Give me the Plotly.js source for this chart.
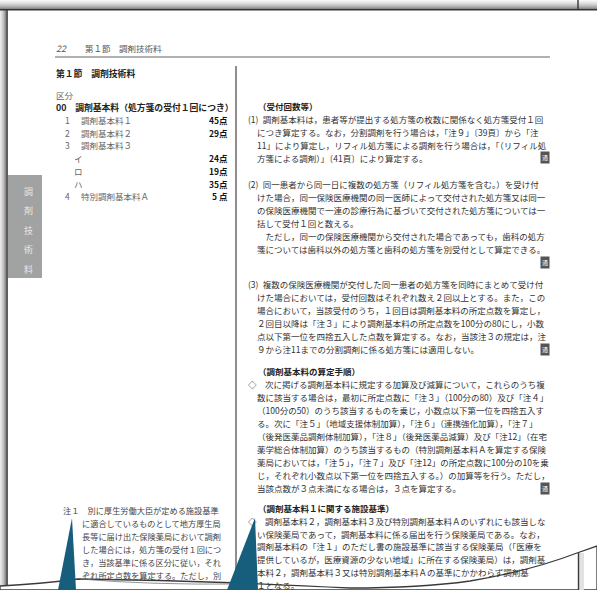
<!DOCTYPE html>
<html>
<head>
<meta charset="utf-8">
<script src="https://cdn.plot.ly/plotly-3.0.1.min.js"></script>
<style>html,body{margin:0;padding:0;background:#fff;}#chart{width:597px;height:590px;}</style>
</head>
<body>
<div id="chart"></div>
<script>
// ---------- data ----------
const pageNo = "22";
const sectionTitle = "第１節　調剤技術料";
const kubunLabel = "区分";
const itemHeading = "00　調剤基本料（処方箋の受付１回につき）";
const itemNos = ["1", "2", "3", "", "", "", "4"];
const itemNames = ["調剤基本料１", "調剤基本料２", "調剤基本料３", "イ", "ロ", "ハ", "特別調剤基本料Ａ"];
const itemPoints = [45, 29, null, 24, 19, 35, 5];
const tabChars = ["調", "剤", "技", "術", "料"];

const noteLines = [
  "注１　別に厚生労働大臣が定める施設基準",
  "に適合しているものとして地方厚生局",
  "長等に届け出た保険薬局において調剤",
  "した場合には，処方箋の受付１回につ",
  "き，当該基準に係る区分に従い，それ",
  "ぞれ所定点数を算定する。ただし，別"
];

const head1 = "（受付回数等）";
const para1 = [
  "(1)\u2002調剤基本料は，患者等が提出する処方箋の枚数に関係なく処方箋受付１回",
  "につき算定する。なお，分割調剤を行う場合は，「注９」〔39頁〕から「注",
  "11」により算定し，リフィル処方箋による調剤を行う場合は，「（リフィル処",
  "方箋による調剤）」〔41頁〕により算定する。"
];
const para2 = [
  "(2)\u2002同一患者から同一日に複数の処方箋（リフィル処方箋を含む。）を受け付",
  "けた場合，同一保険医療機関の同一医師によって交付された処方箋又は同一",
  "の保険医療機関で一連の診療行為に基づいて交付された処方箋については一",
  "括して受付１回と数える。",
  "　ただし，同一の保険医療機関から交付された場合であっても，歯科の処方",
  "箋については歯科以外の処方箋と歯科の処方箋を別受付として算定できる。"
];
const para3 = [
  "(3)\u2002複数の保険医療機関が交付した同一患者の処方箋を同時にまとめて受け付",
  "けた場合においては，受付回数はそれぞれ数え２回以上とする。また，この",
  "場合において，当該受付のうち，１回目は調剤基本料の所定点数を算定し，",
  "２回目以降は「注３」により調剤基本料の所定点数を100分の80にし，小数",
  "点以下第一位を四捨五入した点数を算定する。なお，当該注３の規定は，注",
  "９から注11までの分割調剤に係る処方箋には適用しない。"
];
const head2 = "（調剤基本料の算定手順）";
const para4 = [
  "◇　次に掲げる調剤基本料に規定する加算及び減算について，これらのうち複",
  "数に該当する場合は，最初に所定点数に「注３」（100分の80）及び「注４」",
  "（100分の50）のうち該当するものを乗じ，小数点以下第一位を四捨五入す",
  "る。次に「注５」（地域支援体制加算），「注６」（連携強化加算），「注７」",
  "（後発医薬品調剤体制加算），「注８」（後発医薬品減算）及び「注12」（在宅",
  "薬学総合体制加算）のうち該当するもの（特別調剤基本料Ａを算定する保険",
  "薬局においては，「注５」，「注７」及び「注12」の所定点数に100分の10を乗",
  "じ，それぞれ小数点以下第一位を四捨五入する。）の加算等を行う。ただし，",
  "当該点数が３点未満になる場合は，３点を算定する。"
];
const head3 = "（調剤基本料１に関する施設基準）";
const para5 = [
  "◇　調剤基本料２，調剤基本料３及び特別調剤基本料Ａのいずれにも該当しな",
  "い保険薬局であって，調剤基本料に係る届出を行う保険薬局である。なお，",
  "調剤基本料の「注１」のただし書の施設基準に該当する保険薬局（「医療を",
  "提供しているが，医療資源の少ない地域」に所在する保険薬局）は，調剤基",
  "本料２，調剤基本料３又は特別調剤基本料Ａの基準にかかわらず調剤基",
  "１となる。"
];
const iconChar = "通";

// ---------- layout helpers ----------
const FONT = "'Noto Sans CJK JP', 'Noto Sans', sans-serif";
const LH = 13;
const FS = 8.5;
const ann = [];
function txt(x, y, t, opt) {
  opt = opt || {};
  ann.push({
    xref: "x", yref: "y", x: x, y: y, text: t, showarrow: false,
    xanchor: opt.anchor || "left", yanchor: "middle",
    font: {family: FONT, size: opt.size || FS, color: opt.color || "#333"},
    bgcolor: opt.bg || "rgba(0,0,0,0)", borderpad: opt.pad === undefined ? 0 : opt.pad
  });
}
function para(lines, y0, xFirst, xRest, lh) {
  lines.forEach((l, i) => txt(i === 0 ? xFirst : xRest, y0 + i * (lh || LH), l));
}
function icon(x, y) {
  txt(x, y, iconChar, {anchor: "center", size: 6, color: "#fff", bg: "#555", pad: 1});
}

// header
txt(55, 48, "<i>" + pageNo + "</i>", {color: "#555", size: 9});
txt(84, 48, sectionTitle, {color: "#555", size: 8.5});
// left column
txt(55, 73, "<b>" + sectionTitle + "</b>", {color: "#222", size: 8.8});
txt(55, 95, kubunLabel, {color: "#666"});
txt(55, 107.5, "<b>" + itemHeading + "</b>", {color: "#222", size: 8.8});
itemNames.forEach((nm, i) => {
  const y = 120 + i * 12.7;
  if (itemNos[i]) {
    txt(64, y, itemNos[i], {color: "#666"});
    txt(80, y, nm, {color: "#666"});
  } else {
    txt(73, y, nm, {color: "#666"});
  }
  if (itemPoints[i] !== null) {
    const p = itemPoints[i] < 10 ? itemPoints[i] + " 点" : itemPoints[i] + "点";
    txt(229, y, "<b>" + p + "</b>", {anchor: "right", color: "#111"});
  }
});
// side tab chars
tabChars.forEach((c, i) => txt(28, 191 + i * 19.5, c, {anchor: "center", color: "#e6e6e6", size: 9}));
// note
noteLines.forEach((l, i) => txt(i === 0 ? 62 : 81, 510 + i * LH, l, {color: "#444", size: 8.2}));

// right column
txt(257, 106, "<b>" + head1 + "</b>", {color: "#222"});
para(para1, 119, 247, 256);
icon(545, 157);
para(para2, 184, 247, 256);
icon(545, 262);
para(para3, 284, 247, 256);
icon(545, 349);
txt(257, 371, "<b>" + head2 + "</b>", {color: "#222"});
para(para4, 384, 247, 256);
icon(545, 488);
txt(257, 508, "<b>" + head3 + "</b>", {color: "#222"});
para(para5, 521, 247, 256, 12.7);

// ---------- shapes ----------
const shapes = [];
function rect(x0, y0, x1, y1, fill) {
  shapes.push({type: "rect", xref: "x", yref: "y", x0, y0, x1, y1, fillcolor: fill, line: {width: 0}, layer: "below"});
}
function line(x0, y0, x1, y1, color, w) {
  shapes.push({type: "line", xref: "x", yref: "y", x0, y0, x1, y1, line: {color: color, width: w}});
}
function path(p, fill, lc, lw) {
  shapes.push({type: "path", xref: "x", yref: "y", path: p, fillcolor: fill, line: {color: lc, width: lw}});
}
// top band gradient
const bandCols = ["#f7f7f7", "#efefef", "#e6e6e6", "#dcdcdc", "#d0d0d0", "#c2c2c2", "#b2b2b2", "#a0a0a0", "#8a8a8a"];
bandCols.forEach((c, i) => rect(0, i, 597, i + 1.05, c));
line(0, 9.8, 597, 9.8, "#3b3333", 1.6);
line(578, 0, 578, 10, "#3b3333", 1.4);
// left strip
const leftCols = ["#e8e8e8", "#dcdcdc", "#cfcfcf", "#bdbdbd", "#a8a8a8", "#8e8e8e"];
leftCols.forEach((c, i) => rect(i, 10, i + 1.05, 590, c));
line(7, 9.8, 7, 586, "#3b3333", 1.6);
// side tab
rect(8, 175, 42, 278, "#a1a3a3");
// header underline and column divider
line(55, 57, 550, 57, "#666", 1.2);
line(236, 66, 236, 584, "#333", 1.1);
// bottom curl
path("M0,590 L0,586 Q40,584 78,579 Q160,580 240,583 Q300,586 350,588 Q420,588 470,581 Q530,571 577,553 L597,546 L597,590 Z", "#ffffff", "#3a3a3a", 1.3);
path("M80,579 Q150,585 240,584", "rgba(0,0,0,0)", "#777", 0.8);
rect(579, 553, 584, 590, "#e2e2e2");
shapes[shapes.length - 1].layer = "above";
line(578.5, 553, 578.5, 590, "#3a3a3a", 1.4);
// teal pointers
path("M72,518 L58,590 L76,590 Z", "#175d7c", "rgba(0,0,0,0)", 0);
path("M255,518 L227,590 L258,590 Z", "#175d7c", "rgba(0,0,0,0)", 0);

const layout = {
  width: 597, height: 590,
  margin: {l: 0, r: 0, t: 0, b: 0, pad: 0},
  paper_bgcolor: "#ffffff", plot_bgcolor: "#ffffff",
  xaxis: {range: [0, 597], visible: false, fixedrange: true},
  yaxis: {range: [590, 0], visible: false, fixedrange: true},
  showlegend: false,
  annotations: ann,
  shapes: shapes
};
Plotly.newPlot("chart", [], layout, {displayModeBar: false, staticPlot: true});
</script>
</body>
</html>
